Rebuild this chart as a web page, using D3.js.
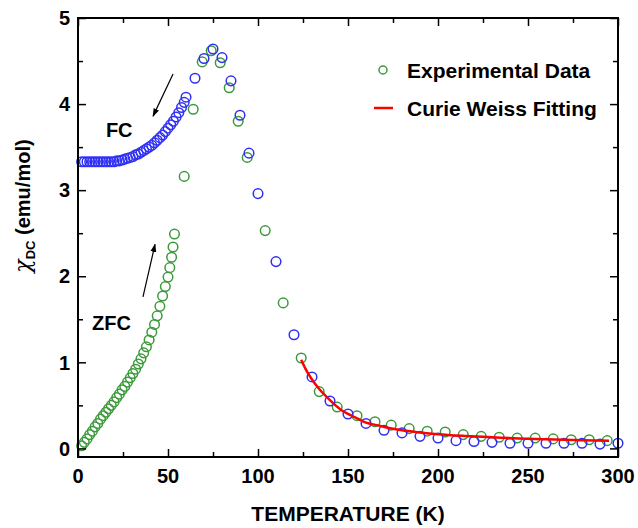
<!DOCTYPE html>
<html>
<head>
<meta charset="utf-8">
<script src="https://cdn.jsdelivr.net/npm/d3@7"></script>
<style>
  body { margin: 0; background: #fff; }
  svg { display: block; font-family: "Liberation Sans", Arial, sans-serif; }
</style>
</head>
<body>
<div id="chart"></div>
<script>
// ZFC branch (green, dense low-T part)
const zfcT = [2, 3.5, 5, 6.5, 8, 9.5, 11, 12.5, 14, 15.5, 17, 18.5, 20, 21.5, 23, 24.5, 26, 27.5, 29, 30.5,
  32, 33.5, 35, 36.5, 38, 39.5, 41, 42.5, 44, 45.5, 47, 48.5, 50, 51, 52, 52.8, 53.6,
  59, 64, 69, 74, 79, 84, 89, 94, 104, 114, 124, 134, 144, 155, 165, 174, 184, 194, 204, 214,
  224, 234, 244, 254, 264, 274, 284, 294];
const zfcChi = [0.03, 0.07, 0.11, 0.16, 0.20, 0.25, 0.29, 0.34, 0.38, 0.42, 0.46, 0.50, 0.54, 0.59, 0.63, 0.68, 0.72, 0.77, 0.82, 0.87,
  0.92, 0.98, 1.04, 1.11, 1.18, 1.26, 1.35, 1.44, 1.54, 1.65, 1.77, 1.88, 1.99, 2.10, 2.22, 2.34, 2.49,
  3.16, 3.94, 4.49, 4.62, 4.48, 4.19, 3.80, 3.38, 2.53, 1.69, 1.05, 0.66, 0.48, 0.38, 0.31, 0.27, 0.23, 0.20, 0.19, 0.16,
  0.14, 0.13, 0.12, 0.12, 0.11, 0.10, 0.10, 0.09];

// FC branch (blue)
const fcT = [2, 3.5, 5, 6.5, 8, 9.5, 11, 12.5, 14, 15.5, 17, 18.5, 20, 21.5, 23, 24.5, 26, 27.5, 29, 30.5,
  32, 33.5, 35, 36.5, 38, 39.5, 41, 42.5, 44, 45.5, 47, 48.5, 50, 51.5, 53, 54.5, 56, 57.5, 59, 60,
  65, 70, 75, 80, 85, 90, 95, 100, 110, 120, 130, 140, 150, 160, 170, 180, 190, 200, 210,
  220, 230, 240, 250, 260, 270, 280, 290, 300];
const fcChi = [3.33, 3.33, 3.33, 3.33, 3.33, 3.33, 3.33, 3.33, 3.33, 3.33, 3.33, 3.33, 3.33, 3.34, 3.34, 3.35, 3.36, 3.37, 3.38, 3.39,
  3.41, 3.42, 3.44, 3.46, 3.48, 3.50, 3.52, 3.55, 3.58, 3.61, 3.64, 3.68, 3.72, 3.76, 3.80, 3.85, 3.90, 3.96, 4.02, 4.08,
  4.30, 4.53, 4.64, 4.54, 4.27, 3.87, 3.43, 2.96, 2.17, 1.32, 0.83, 0.55, 0.40, 0.29, 0.21, 0.18, 0.14, 0.12, 0.09,
  0.08, 0.07, 0.06, 0.06, 0.06, 0.06, 0.06, 0.05, 0.06];

// Curie-Weiss fit (red line)
const fitT = [124, 127, 130, 134, 138, 142, 146, 150, 155, 160, 166, 172, 180, 190, 200, 215, 230, 245, 260, 280, 295];
const fitChi = [1.03, 0.90, 0.80, 0.69, 0.60, 0.52, 0.45, 0.40, 0.35, 0.30, 0.27, 0.24, 0.21, 0.185, 0.165, 0.145, 0.13, 0.115, 0.105, 0.095, 0.09];

const xTicks = [0, 50, 100, 150, 200, 250, 300];
const yTicks = [0, 1, 2, 3, 4, 5];

const width = 638;
const height = 528;
const margin = { top: 18, right: 20, bottom: 71, left: 78 };

const svg = d3.select("#chart").append("svg")
  .attr("width", width)
  .attr("height", height);

const x = d3.scaleLinear().domain([0, 300]).range([margin.left, width - margin.right]);
const y = d3.scaleLinear().domain([-0.1, 5]).range([height - margin.bottom, margin.top]);

const green = "#3c9a3c";
const blue = "#3030f5";
const rad = 4.8;

// data points
const zfc = zfcT.map((t, i) => ({ t, v: zfcChi[i] }));
const fc = fcT.map((t, i) => ({ t, v: fcChi[i] }));
const fit = fitT.map((t, i) => ({ t, v: fitChi[i] }));

const plot = svg.append("g");

plot.selectAll("circle.zfc")
  .data(zfc)
  .enter()
  .append("circle")
  .attr("class", "zfc")
  .attr("cx", (d) => x(d.t))
  .attr("cy", (d) => y(d.v))
  .attr("r", rad)
  .attr("fill", "none")
  .attr("stroke", green)
  .attr("stroke-width", 1.5);

plot.selectAll("circle.fc")
  .data(fc)
  .enter()
  .append("circle")
  .attr("class", "fc")
  .attr("cx", (d) => x(d.t))
  .attr("cy", (d) => y(d.v))
  .attr("r", rad)
  .attr("fill", "none")
  .attr("stroke", blue)
  .attr("stroke-width", 1.5);

plot.append("path")
  .datum(fit)
  .attr("fill", "none")
  .attr("stroke", "#ff0000")
  .attr("stroke-width", 2.5)
  .attr("d", d3.line().x((d) => x(d.t)).y((d) => y(d.v)).curve(d3.curveMonotoneX));

// axes: ticks inward on all four sides
const bottom = height - margin.bottom;
const right = width - margin.right;

function addAxis(axis, tf) {
  const g = svg.append("g").attr("transform", tf).call(axis);
  g.select(".domain").remove();
  g.selectAll("line").attr("stroke", "#000").attr("stroke-width", 1.5);
  return g;
}

const xMinor = d3.range(25, 300, 50);
const yMinor = [0.5, 1.5, 2.5, 3.5, 4.5];

addAxis(d3.axisBottom(x).tickValues(xTicks).tickSize(-8).tickFormat(""), `translate(0,${bottom})`);
addAxis(d3.axisBottom(x).tickValues(xMinor).tickSize(-5).tickFormat(""), `translate(0,${bottom})`);
addAxis(d3.axisTop(x).tickValues(xTicks).tickSize(-8).tickFormat(""), `translate(0,${margin.top})`);
addAxis(d3.axisTop(x).tickValues(xMinor).tickSize(-5).tickFormat(""), `translate(0,${margin.top})`);
addAxis(d3.axisLeft(y).tickValues(yTicks).tickSize(-8).tickFormat(""), `translate(${margin.left},0)`);
addAxis(d3.axisLeft(y).tickValues(yMinor).tickSize(-5).tickFormat(""), `translate(${margin.left},0)`);
addAxis(d3.axisRight(y).tickValues(yTicks).tickSize(-8).tickFormat(""), `translate(${right},0)`);
addAxis(d3.axisRight(y).tickValues(yMinor).tickSize(-5).tickFormat(""), `translate(${right},0)`);

// frame
svg.append("rect")
  .attr("x", margin.left)
  .attr("y", margin.top)
  .attr("width", right - margin.left)
  .attr("height", bottom - margin.top)
  .attr("fill", "none")
  .attr("stroke", "#000")
  .attr("stroke-width", 2);

// tick labels
svg.append("g").selectAll("text")
  .data(xTicks)
  .enter()
  .append("text")
  .attr("x", (d) => x(d))
  .attr("y", 483)
  .attr("text-anchor", "middle")
  .style("font-size", "20px")
  .style("font-weight", "bold")
  .text((d) => d);

svg.append("g").selectAll("text")
  .data(yTicks)
  .enter()
  .append("text")
  .attr("x", 70)
  .attr("y", (d) => y(d))
  .attr("dy", "0.36em")
  .attr("text-anchor", "end")
  .style("font-size", "20px")
  .style("font-weight", "bold")
  .text((d) => d);

// axis titles
svg.append("text")
  .attr("x", (margin.left + right) / 2)
  .attr("y", 521)
  .attr("text-anchor", "middle")
  .style("font-size", "21px")
  .style("font-weight", "bold")
  .text("TEMPERATURE (K)");

const yl = svg.append("text")
  .attr("transform", "translate(30,206) rotate(-90)")
  .attr("text-anchor", "middle")
  .style("font-size", "20px")
  .style("font-weight", "bold");
yl.append("tspan").style("font-weight", "normal").style("font-family", "DejaVu Serif").style("font-style", "italic").style("font-size", "22px").text("χ");
yl.append("tspan").attr("dy", 5).style("font-size", "13px").text("DC");
yl.append("tspan").attr("dy", -5).text(" (emu/mol)");

// annotations
svg.append("defs").append("marker")
  .attr("id", "arrow")
  .attr("viewBox", "0 0 10 10")
  .attr("refX", 9)
  .attr("refY", 5)
  .attr("markerWidth", 7)
  .attr("markerHeight", 7)
  .attr("orient", "auto")
  .append("path")
  .attr("d", "M0,1.5 L10,5 L0,8.5 Z")
  .attr("fill", "#000");

const arrows = [
  { t0: 52.8, v0: 4.35, t1: 41.7, v1: 3.86 },
  { t0: 36.1, v0: 1.76, t1: 42.8, v1: 2.37 }
];
svg.append("g").selectAll("line")
  .data(arrows)
  .enter()
  .append("line")
  .attr("x1", (d) => x(d.t0))
  .attr("y1", (d) => y(d.v0))
  .attr("x2", (d) => x(d.t1))
  .attr("y2", (d) => y(d.v1))
  .attr("stroke", "#000")
  .attr("stroke-width", 1.2)
  .attr("marker-end", "url(#arrow)");

const notes = [
  { t: 15.5, v: 3.62, label: "FC" },
  { t: 7.8, v: 1.38, label: "ZFC" }
];
svg.append("g").selectAll("text")
  .data(notes)
  .enter()
  .append("text")
  .attr("x", (d) => x(d.t))
  .attr("y", (d) => y(d.v))
  .style("font-size", "20px")
  .style("font-weight", "bold")
  .text((d) => d.label);

// legend
const legend = svg.append("g");
legend.append("circle")
  .attr("cx", 383)
  .attr("cy", 70)
  .attr("r", 4)
  .attr("fill", "none")
  .attr("stroke", green)
  .attr("stroke-width", 1.5);
legend.append("text")
  .attr("x", 407)
  .attr("y", 78)
  .style("font-size", "21px")
  .style("font-weight", "bold")
  .text("Experimental Data");
legend.append("line")
  .attr("x1", 374)
  .attr("x2", 393)
  .attr("y1", 108)
  .attr("y2", 108)
  .attr("stroke", "#ff0000")
  .attr("stroke-width", 2.5);
legend.append("text")
  .attr("x", 407)
  .attr("y", 116)
  .style("font-size", "21px")
  .style("font-weight", "bold")
  .text("Curie Weiss Fitting");
</script>
</body>
</html>
